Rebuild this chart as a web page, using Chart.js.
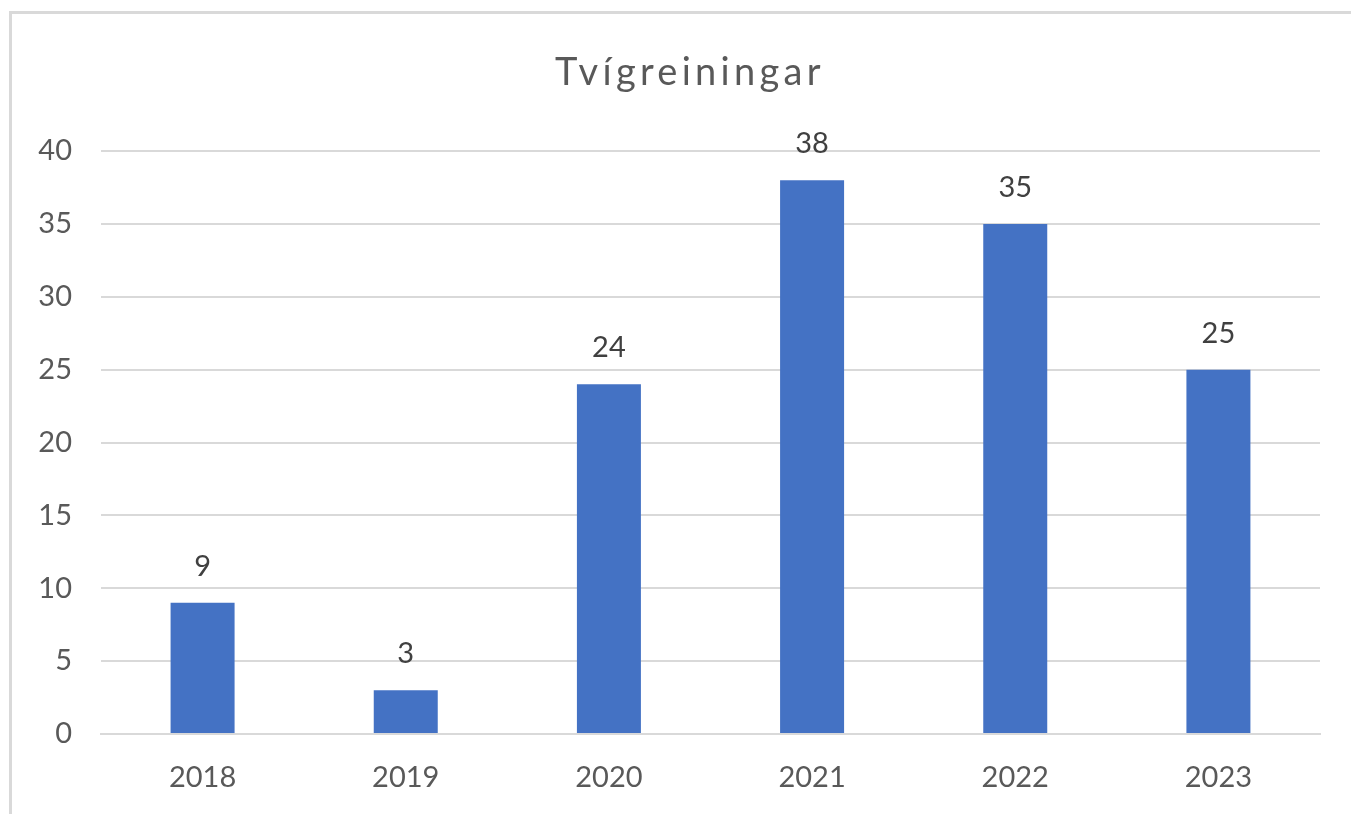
<!DOCTYPE html>
<html>
<head>
<meta charset="utf-8">
<script src="https://cdn.jsdelivr.net/npm/chart.js@4/dist/chart.umd.min.js"></script>
<style>
  html, body { margin: 0; padding: 0; background: #ffffff; overflow: hidden; }
  #frame { position: absolute; left: 9px; top: 11px; width: 1400px; height: 900px;
           border-top: 3px solid #d9d9d9; border-left: 3px solid #d9d9d9; box-sizing: border-box; }
  #wrap { position: absolute; left: 0; top: 0; width: 1351px; height: 814px; }
</style>
</head>
<body>
<div id="frame"></div>
<div id="wrap"><canvas id="c" width="1351" height="814"></canvas></div>
<script>
const titleText = "Tvígreiningar";
const categories = ["2018", "2019", "2020", "2021", "2022", "2023"];
const values = [9, 3, 24, 38, 35, 25];
const yMin = 0, yMax = 40, yStep = 5;

const titlePlugin = {
  id: 'customTitle',
  afterDraw(chart) {
    const ctx = chart.ctx;
    ctx.save();
    ctx.font = '38px Lato';
    ctx.fillStyle = '#595959';
    ctx.textAlign = 'center';
    ctx.textBaseline = 'alphabetic';
    if ('letterSpacing' in ctx) ctx.letterSpacing = '4.3px';
    ctx.fillText(titleText, 690, 85);
    ctx.restore();
  }
};

const barLabels = {
  id: 'barLabels',
  afterDatasetsDraw(chart) {
    const ctx = chart.ctx;
    const meta = chart.getDatasetMeta(0);
    ctx.save();
    ctx.font = '29px Lato';
    ctx.fillStyle = '#404040';
    ctx.textAlign = 'center';
    ctx.textBaseline = 'alphabetic';
    meta.data.forEach((bar, i) => {
      ctx.fillText(String(values[i]), bar.x, bar.y - 27);
    });
    ctx.restore();
  }
};

new Chart(document.getElementById('c'), {
  type: 'bar',
  data: {
    labels: categories,
    datasets: [{
      data: values,
      backgroundColor: '#4472C4',
      borderWidth: 0,
      categoryPercentage: 1.0,
      barPercentage: 0.315
    }]
  },
  options: {
    responsive: false,
    animation: false,
    devicePixelRatio: 1,
    layout: { padding: { left: 0, right: 31, top: 151, bottom: 22 } },
    plugins: {
      legend: { display: false },
      tooltip: { enabled: false },
      title: { display: false }
    },
    scales: {
      x: {
        afterFit(scale) { scale.height = 58; },
        grid: { display: false, drawTicks: false },
        border: { display: true, color: '#d9d9d9', width: 2 },
        ticks: { color: '#595959', font: { family: 'Lato', size: 29 }, padding: 26, maxRotation: 0 }
      },
      y: {
        min: yMin, max: yMax,
        afterFit(scale) { scale.width = 101; },
        grid: { color: '#d9d9d9', lineWidth: 2, drawTicks: false },
        border: { display: false },
        ticks: { stepSize: yStep, color: '#595959', font: { family: 'Lato', size: 29 }, padding: 29 }
      }
    }
  },
  plugins: [barLabels, titlePlugin]
});
</script>
</body>
</html>
